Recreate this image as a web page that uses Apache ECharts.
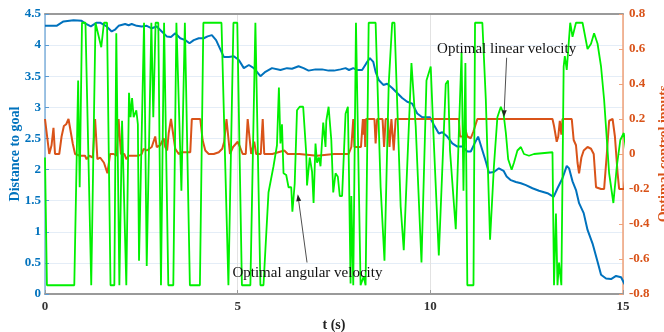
<!DOCTYPE html>
<html>
<head>
<meta charset="utf-8">
<script src="https://cdn.jsdelivr.net/npm/echarts@6/dist/echarts.min.js"></script>
<style>
  html, body { margin: 0; padding: 0; background: #fff; }
  #main { width: 664px; height: 332px; }
</style>
</head>
<body>
<div id="main"></div>
<script>
// tick values
const xTicks = [0, 5, 10, 15];
const distTicks = [0, 0.5, 1, 1.5, 2, 2.5, 3, 3.5, 4, 4.5];
const ctrlTicks = [-0.8, -0.6, -0.4, -0.2, 0, 0.2, 0.4, 0.6, 0.8];

// distance to goal [t, d]
const distance = [
  [0.00, 4.31], [0.30, 4.31], [0.48, 4.38], [0.74, 4.40], [0.95, 4.39], [1.04, 4.35], [1.19, 4.30],
  [1.34, 4.36], [1.43, 4.36], [1.60, 4.30], [1.73, 4.22], [1.82, 4.25], [1.91, 4.31], [2.08, 4.34],
  [2.17, 4.32], [2.25, 4.34], [2.38, 4.31], [2.51, 4.30], [2.64, 4.31], [2.77, 4.27], [2.90, 4.30],
  [3.03, 4.22], [3.16, 4.14], [3.27, 4.13], [3.38, 4.19], [3.51, 4.11], [3.64, 4.08], [3.75, 4.03],
  [3.86, 4.08], [3.99, 4.11], [4.12, 4.11], [4.22, 4.14], [4.33, 4.16], [4.44, 4.08], [4.64, 3.81],
  [4.77, 3.81], [4.90, 3.82], [5.03, 3.76], [5.16, 3.63], [5.29, 3.68], [5.42, 3.63], [5.59, 3.50],
  [5.72, 3.57], [5.89, 3.63], [6.11, 3.60], [6.28, 3.63], [6.41, 3.62], [6.58, 3.66], [6.71, 3.63],
  [6.84, 3.59], [7.02, 3.61], [7.19, 3.61], [7.36, 3.59], [7.50, 3.59], [7.67, 3.61], [7.80, 3.63],
  [7.89, 3.60], [8.00, 3.63], [8.10, 3.60], [8.23, 3.60], [8.34, 3.71], [8.43, 3.79], [8.52, 3.73],
  [8.58, 3.57], [8.66, 3.44], [8.78, 3.36], [8.88, 3.38], [9.01, 3.31], [9.14, 3.23], [9.27, 3.15],
  [9.40, 3.09], [9.53, 3.06], [9.66, 2.90], [9.79, 2.84], [9.88, 2.84], [9.99, 2.84], [10.09, 2.72],
  [10.22, 2.58], [10.31, 2.60], [10.44, 2.53], [10.57, 2.42], [10.70, 2.37], [10.83, 2.37], [10.96, 2.29],
  [11.05, 2.29], [11.15, 2.42], [11.24, 2.53], [11.35, 2.31], [11.44, 2.13], [11.52, 1.95], [11.65, 1.96],
  [11.78, 2.02], [11.90, 1.98], [11.98, 1.89], [12.09, 1.83], [12.22, 1.80], [12.35, 1.78], [12.48, 1.75],
  [12.65, 1.70], [12.82, 1.66], [13.04, 1.62], [13.20, 1.56], [13.30, 1.70], [13.43, 1.86], [13.54, 2.06],
  [13.60, 2.02], [13.69, 1.81], [13.78, 1.67], [13.86, 1.46], [13.98, 1.30], [14.08, 1.03], [14.21, 0.81],
  [14.34, 0.52], [14.43, 0.31], [14.56, 0.25], [14.69, 0.24], [14.82, 0.29], [14.95, 0.27], [15.03, 0.17],
  [15.12, 0.09]
];

// optimal linear velocity [t, v]
const linearVel = [
  [0.00, 0.20], [0.05, 0.20], [0.11, 0.00], [0.17, 0.05], [0.22, 0.15], [0.26, 0.00], [0.37, 0.00],
  [0.43, 0.10], [0.49, 0.16], [0.55, 0.17], [0.61, 0.20], [0.66, 0.20], [0.72, 0.06], [0.78, 0.00],
  [0.91, -0.01], [1.04, -0.01], [1.08, -0.03], [1.15, -0.01], [1.24, -0.02], [1.30, 0.20], [1.36, -0.03],
  [1.43, -0.02], [1.48, -0.01], [1.53, -0.05], [1.58, -0.05], [1.62, -0.11], [1.69, 0.00], [1.78, 0.00],
  [1.86, -0.01], [1.91, 0.20], [1.97, 0.00], [2.06, 0.00], [2.11, -0.03], [2.17, -0.01], [2.30, -0.01],
  [2.43, -0.01], [2.51, 0.00], [2.56, 0.03], [2.64, 0.02], [2.77, 0.04], [2.86, 0.10], [2.90, 0.04],
  [2.99, 0.05], [3.08, 0.09], [3.12, 0.04], [3.17, 0.02], [3.21, 0.12], [3.27, 0.20], [3.32, 0.20],
  [3.38, 0.03], [3.47, 0.00], [3.56, 0.01], [3.64, 0.01], [3.69, 0.00], [3.77, 0.01], [3.81, 0.20],
  [4.03, 0.20], [4.09, 0.08], [4.16, 0.02], [4.25, 0.00], [4.38, 0.00], [4.51, 0.01], [4.60, 0.03],
  [4.65, 0.07], [4.71, 0.20], [4.75, 0.20], [4.80, 0.00], [4.88, 0.04], [5.00, 0.07], [5.06, 0.04],
  [5.13, 0.00], [5.21, 0.00], [5.26, 0.20], [5.31, 0.20], [5.35, 0.00], [5.43, 0.07], [5.48, 0.00],
  [5.60, 0.00], [5.65, 0.20], [5.69, 0.00], [5.90, 0.00], [6.21, 0.02], [6.30, 0.00], [6.60, 0.00],
  [7.06, -0.01], [7.50, 0.00], [7.88, 0.00], [7.95, 0.04], [8.00, 0.20], [8.03, 0.04], [8.20, 0.04],
  [8.25, 0.20], [8.27, 0.11], [8.29, 0.20], [8.31, 0.04], [8.33, 0.20], [8.55, 0.20], [8.58, 0.06],
  [8.62, 0.20], [8.76, 0.20], [8.80, 0.04], [8.84, 0.20], [8.90, 0.20], [8.94, 0.04], [8.99, 0.20],
  [9.02, 0.20], [9.05, 0.02], [9.10, 0.20], [10.74, 0.20], [10.77, 0.10], [10.86, 0.10], [10.91, 0.14],
  [10.96, 0.10], [11.05, 0.09], [11.12, 0.13], [11.17, 0.12], [11.22, 0.20], [13.17, 0.20], [13.21, 0.16],
  [13.28, 0.07], [13.32, 0.10], [13.36, 0.19], [13.40, 0.11], [13.43, 0.20], [13.67, 0.20], [13.72, 0.08],
  [13.78, 0.05], [13.82, -0.05], [13.86, -0.11], [13.92, -0.02], [13.98, 0.02], [14.08, 0.04], [14.17, 0.03],
  [14.24, 0.00], [14.30, -0.19], [14.43, -0.20], [14.51, -0.20], [14.58, 0.00], [14.64, 0.19], [14.73, 0.20],
  [14.79, 0.10], [14.86, -0.11], [14.90, -0.20], [15.03, -0.20], [15.12, 0.00]
];

// optimal angular velocity [t, w]
const angularVel = [
  [0.00, -0.02], [0.05, -0.75], [0.76, -0.75], [0.86, 0.42], [0.90, -0.19], [0.96, 0.75], [1.05, 0.75],
  [1.20, -0.75], [1.31, 0.75], [1.46, 0.61], [1.53, 0.75], [1.61, 0.75], [1.70, -0.75], [1.80, -0.75],
  [1.85, 0.69], [1.93, -0.75], [2.00, 0.19], [2.11, -0.75], [2.18, 0.35], [2.22, 0.21], [2.26, 0.32],
  [2.30, 0.21], [2.37, 0.25], [2.41, 0.17], [2.44, -0.61], [2.57, 0.75], [2.64, -0.64], [2.76, 0.75],
  [2.81, 0.21], [2.87, 0.75], [2.94, 0.75], [3.01, -0.75], [3.09, 0.75], [3.20, -0.75], [3.33, -0.75],
  [3.41, 0.75], [3.46, 0.75], [3.54, -0.21], [3.63, 0.75], [3.76, -0.75], [4.02, -0.75], [4.11, 0.75],
  [4.58, 0.75], [4.76, -0.75], [4.89, 0.75], [4.99, 0.75], [5.11, -0.75], [5.33, -0.75], [5.46, 0.75],
  [5.59, -0.75], [5.67, -0.75], [5.80, -0.22], [5.93, -0.07], [6.02, 0.05], [6.07, 0.38], [6.11, 0.06],
  [6.15, 0.17], [6.19, -0.11], [6.26, -0.12], [6.32, -0.19], [6.39, -0.19], [6.42, -0.33], [6.48, -0.17],
  [6.54, 0.25], [6.61, 0.27], [6.70, 0.27], [6.78, 0.00], [6.80, -0.18], [6.87, -0.02], [6.93, -0.10],
  [6.97, -0.28], [7.02, 0.06], [7.06, -0.05], [7.11, -0.02], [7.15, -0.07], [7.22, 0.18], [7.28, 0.04],
  [7.30, 0.19], [7.36, 0.27], [7.43, 0.08], [7.48, -0.22], [7.54, -0.11], [7.60, -0.13], [7.65, -0.24],
  [7.71, -0.24], [7.80, 0.23], [7.86, 0.27], [7.89, -0.13], [7.93, -0.74], [7.95, -0.24], [8.00, -0.75],
  [8.07, 0.75], [8.19, -0.75], [8.27, -0.70], [8.32, -0.75], [8.40, 0.75], [8.58, 0.75], [8.71, -0.19],
  [8.81, -0.61], [8.92, 0.40], [9.01, 0.75], [9.07, 0.75], [9.23, -0.30], [9.31, -0.55], [9.51, 0.52],
  [9.62, 0.16], [9.77, -0.62], [9.90, 0.42], [10.01, 0.50], [10.08, 0.12], [10.22, -0.58], [10.27, -0.57],
  [10.40, 0.40], [10.46, 0.42], [10.51, 0.02], [10.66, -0.43], [10.74, 0.12], [10.81, 0.58], [10.86, -0.21],
  [10.91, 0.52], [10.96, -0.75], [11.12, -0.75], [11.16, 0.75], [11.35, 0.75], [11.44, 0.31], [11.55, -0.49],
  [11.65, -0.07], [11.74, 0.21], [11.83, 0.27], [11.90, 0.23], [11.96, 0.12], [12.02, -0.03], [12.11, -0.09],
  [12.17, -0.05], [12.26, 0.02], [12.35, 0.04], [12.43, 0.00], [12.56, -0.01], [12.69, 0.00], [13.17, 0.01],
  [13.21, -0.75], [13.26, -0.34], [13.30, -0.75], [13.34, -0.62], [13.40, -0.75], [13.46, 0.50], [13.49, 0.56],
  [13.54, 0.48], [13.63, 0.75], [13.69, 0.67], [13.78, 0.75], [13.95, 0.75], [14.08, 0.60], [14.17, 0.63],
  [14.25, 0.69], [14.34, 0.63], [14.43, 0.50], [14.51, 0.31], [14.64, -0.11], [14.75, -0.28], [14.84, -0.07],
  [14.93, 0.08], [15.02, 0.12], [15.08, 0.02], [15.12, 0.00]
];

// text callouts, in (t, control) coordinates
const callouts = [
  { text: 'Optimal angular velocity', at: [6.81, -0.68], from: [6.80, -0.62], to: [6.56, -0.23] },
  { text: 'Optimal linear velocity', at: [11.98, 0.60], from: [11.98, 0.55], to: [11.91, 0.21] }
];

const serif = "'Times New Roman', 'Liberation Serif', serif";
const blue = '#0072BD';
const orange = '#D95319';
const green = '#00F000';

const chart = echarts.init(document.getElementById('main'));

const option = {
  animation: false,
  backgroundColor: '#fff',
  grid: { left: 45, right: 41, top: 14, bottom: 38, containLabel: false, outerBoundsMode: 'none' },
  xAxis: [
    {
      type: 'value',
      min: xTicks[0],
      max: xTicks[xTicks.length - 1],
      interval: 5,
      name: 't (s)',
      nameLocation: 'middle',
      nameGap: 22,
      nameTextStyle: { fontFamily: serif, fontWeight: 'bold', fontSize: 14, color: '#222' },
      axisLine: { onZero: false, lineStyle: { color: '#9a9a9a', width: 2 } },
      axisTick: { inside: true, length: 4, lineStyle: { color: '#9a9a9a' } },
      axisLabel: { fontFamily: serif, fontWeight: 'bold', fontSize: 13, color: '#333', margin: 6 },
      splitLine: { show: true, lineStyle: { color: '#e2e2e2', width: 1 } }
    },
    {
      type: 'value',
      position: 'top',
      min: xTicks[0],
      max: xTicks[xTicks.length - 1],
      axisLine: { onZero: false, lineStyle: { color: '#9a9a9a', width: 2 } },
      axisTick: { show: false },
      axisLabel: { show: false },
      splitLine: { show: false }
    }
  ],
  yAxis: [
    {
      type: 'value',
      min: distTicks[0],
      max: distTicks[distTicks.length - 1],
      interval: 0.5,
      name: 'Distance to goal',
      nameLocation: 'middle',
      nameGap: 23,
      nameMoveOverlap: false,
      nameTextStyle: { fontFamily: serif, fontWeight: 'bold', fontSize: 14, color: blue },
      axisLine: { show: true, onZero: false, lineStyle: { color: '#7fb2de', width: 1.5 } },
      axisTick: { inside: true, length: 4, lineStyle: { color: '#5a9bd5' } },
      axisLabel: { fontFamily: serif, fontWeight: 'bold', fontSize: 13, color: blue, margin: 4 },
      splitLine: { show: true, lineStyle: { color: '#e4edf7', width: 1 } }
    },
    {
      type: 'value',
      position: 'right',
      min: ctrlTicks[0],
      max: ctrlTicks[ctrlTicks.length - 1],
      interval: 0.2,
      name: 'Optimal control inputs',
      nameLocation: 'middle',
      nameGap: 34,
      nameMoveOverlap: false,
      nameTextStyle: { fontFamily: serif, fontWeight: 'bold', fontSize: 14, color: orange },
      axisLine: { show: true, onZero: false, lineStyle: { color: '#f0a27a', width: 1.5 } },
      axisTick: { inside: true, length: 4, lineStyle: { color: '#f0a27a' } },
      axisLabel: {
        fontFamily: serif, fontWeight: 'bold', fontSize: 13, color: orange, margin: 6,
        formatter: v => String(Math.round(v * 10) / 10)
      },
      splitLine: { show: false }
    }
  ],
  series: [
    {
      name: 'Distance to goal',
      type: 'line',
      yAxisIndex: 0,
      data: distance,
      showSymbol: false,
      clip: false,
      lineStyle: { color: blue, width: 2 }
    },
    {
      name: 'Optimal linear velocity',
      type: 'line',
      yAxisIndex: 1,
      data: linearVel,
      showSymbol: false,
      clip: false,
      lineStyle: { color: orange, width: 2 }
    },
    {
      name: 'Optimal angular velocity',
      type: 'line',
      yAxisIndex: 1,
      data: angularVel,
      showSymbol: false,
      clip: false,
      lineStyle: { color: green, width: 1.8 }
    }
  ]
};

chart.setOption(option);

// callout texts and arrows placed through the axes
const toPx = p => chart.convertToPixel({ xAxisIndex: 0, yAxisIndex: 1 }, p);
const graphics = [];
callouts.forEach(c => {
  const at = toPx(c.at);
  const a = toPx(c.from);
  const b = toPx(c.to);
  graphics.push({
    type: 'text',
    x: at[0], y: at[1],
    style: {
      text: c.text, fill: '#111', font: '15px ' + serif,
      textAlign: 'center', textVerticalAlign: 'middle'
    },
    z: 100
  });
  const dx = b[0] - a[0], dy = b[1] - a[1];
  const len = Math.sqrt(dx * dx + dy * dy);
  const ux = dx / len, uy = dy / len;
  const hl = 7, hw = 2.5;
  const base = [b[0] - ux * hl, b[1] - uy * hl];
  graphics.push({
    type: 'line',
    shape: { x1: a[0], y1: a[1], x2: base[0], y2: base[1] },
    style: { stroke: '#222', lineWidth: 0.8 },
    z: 100
  });
  graphics.push({
    type: 'polygon',
    shape: { points: [b, [base[0] - uy * hw, base[1] + ux * hw], [base[0] + uy * hw, base[1] - ux * hw]] },
    style: { fill: '#222' },
    z: 100
  });
});
chart.setOption({ graphic: graphics });
</script>
</body>
</html>
